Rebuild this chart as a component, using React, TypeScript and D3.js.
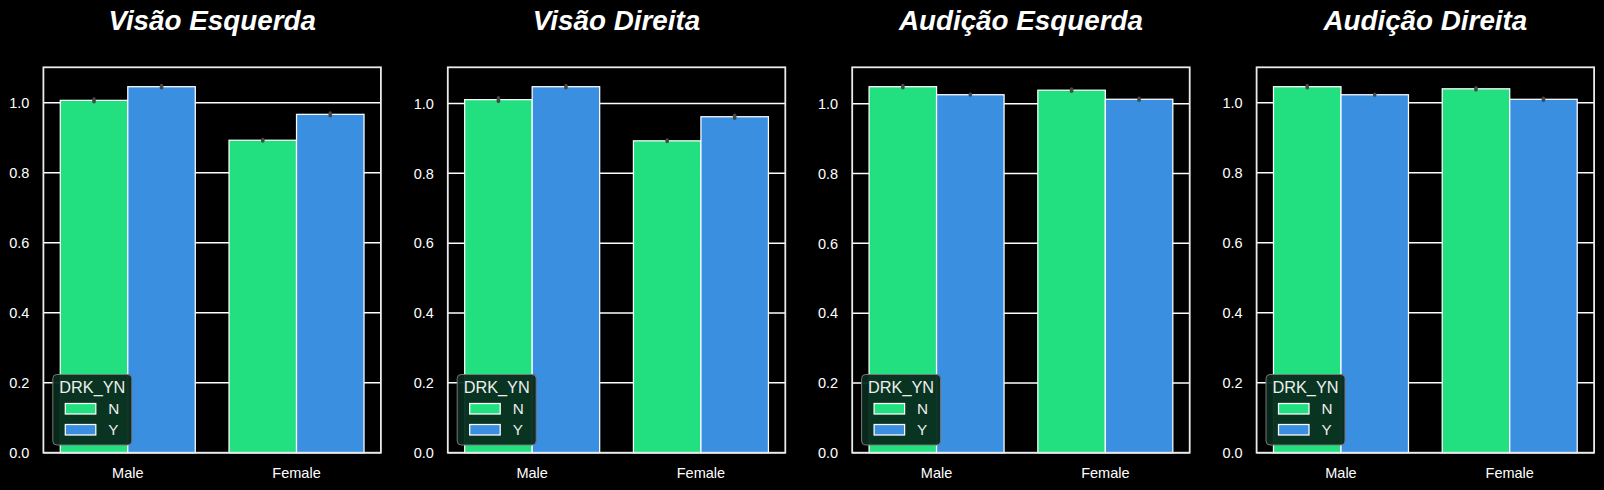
import * as d3 from 'd3';

const categories = ['Male', 'Female'];
const hues = ['N', 'Y'];
const titles = ['Visão Esquerda', 'Visão Direita', 'Audição Esquerda', 'Audição Direita'];

// mean values per panel, [Male, Female]
const sightLeftN = [1.007, 0.893];
const sightLeftY = [1.046, 0.967];
const sightRightN = [1.011, 0.893];
const sightRightY = [1.048, 0.962];
const hearLeftN = [1.049, 1.039];
const hearLeftY = [1.026, 1.013];
const hearRightN = [1.046, 1.040];
const hearRightY = [1.023, 1.010];

// half-width of the confidence intervals
const sightLeftErrN = [0.004, 0.002];
const sightLeftErrY = [0.003, 0.004];
const sightRightErrN = [0.005, 0.002];
const sightRightErrY = [0.003, 0.004];
const hearLeftErrN = [0.003, 0.003];
const hearLeftErrY = [0.001, 0.003];
const hearRightErrN = [0.003, 0.003];
const hearRightErrY = [0.001, 0.003];

const panels = [
  { values: [sightLeftN, sightLeftY], errs: [sightLeftErrN, sightLeftErrY] },
  { values: [sightRightN, sightRightY], errs: [sightRightErrN, sightRightErrY] },
  { values: [hearLeftN, hearLeftY], errs: [hearLeftErrN, hearLeftErrY] },
  { values: [hearRightN, hearRightY], errs: [hearRightErrN, hearRightErrY] },
];

const colors = ['#22e07f', '#3b8fe1'];
const font = '"Liberation Sans", Arial, sans-serif';

const W = 1604;
const H = 490;
const axLeft0 = 43.4;
const axStep = 404.4;
const axW = 337.5;
const axTop = 67.3;
const axBottom = 452.7;

function Panel({ idx }: { idx: number }) {
  const p = panels[idx];
  const left = axLeft0 + idx * axStep;
  const right = left + axW;

  let top = 0;
  p.values.forEach((vals, h) => vals.forEach((v, i) => { top = Math.max(top, v + p.errs[h][i]); }));

  const y = d3.scaleLinear().domain([0, top * 1.05]).range([axBottom, axTop]);
  const x = d3.scaleLinear().domain([-0.5, categories.length - 0.5]).range([left, right]);
  const barW = 0.8 / hues.length;
  const ticks = d3.range(0, 1.01, 0.2);

  return (
    <g>
      <text x={(left + right) / 2} y={30} textAnchor="middle" fill="#fff"
        fontFamily={font} fontSize={27.8} fontWeight="bold" fontStyle="italic">
        {titles[idx]}
      </text>
      {ticks.map(t => (
        <g key={t}>
          <line x1={left} x2={right} y1={y(t)} y2={y(t)} stroke="#fff" strokeWidth={1.5} />
          <text x={left - 14} y={y(t)} dy="0.36em" textAnchor="end" fill="#fff"
            fontFamily={font} fontSize={14.5}>{d3.format('.1f')(t)}</text>
        </g>
      ))}
      {categories.map((c, i) => (
        <text key={c} x={x(i)} y={478} textAnchor="middle" fill="#fff"
          fontFamily={font} fontSize={14.5}>{c}</text>
      ))}
      {p.values.map((vals, h) => vals.map((v, i) => {
        const x0 = x(i - 0.4 + h * barW);
        return (
          <rect key={`${h}-${i}`} x={x0} y={y(v)} width={x(i - 0.4 + (h + 1) * barW) - x0}
            height={axBottom - y(v)} fill={colors[h]} stroke="#fff" strokeWidth={1.25} />
        );
      }))}
      {p.values.map((vals, h) => vals.map((v, i) => {
        const cx = x(i - 0.4 + (h + 0.5) * barW);
        const e = p.errs[h][i];
        return (
          <line key={`e${h}-${i}`} x1={cx} x2={cx} y1={y(v - e)} y2={y(v + e)}
            stroke="#474747" strokeWidth={3.6} strokeLinecap="round" />
        );
      }))}
      <rect x={left} y={axTop} width={axW} height={axBottom - axTop}
        fill="none" stroke="#eaeaea" strokeWidth={1.8} />
      <g transform={`translate(${left + 9.4},${axBottom - 7.7 - 70.5})`}>
        <rect x={0} y={0} width={79} height={70.5} rx={4} fill="#072a1c" fillOpacity={0.95}
          stroke="#777" strokeWidth={1} />
        <text x={39.5} y={18.5} textAnchor="middle" fill="#eee" fontFamily={font} fontSize={16.3}>DRK_YN</text>
        {hues.map((hname, h) => (
          <g key={hname} transform={`translate(0,${29 + h * 21})`}>
            <rect x={12.5} y={0} width={30.5} height={10.5} fill={colors[h]} stroke="#fff" strokeWidth={1.25} />
            <text x={55.5} y={10.8} fill="#eee" fontFamily={font} fontSize={15.3}>{hname}</text>
          </g>
        ))}
      </g>
    </g>
  );
}

export default function App() {
  return (
    <svg width={W} height={H} style={{ position: 'absolute', left: 0, top: 0, background: '#000' }}>
      <rect width={W} height={H} fill="#000" />
      {panels.map((_, i) => <Panel key={i} idx={i} />)}
    </svg>
  );
}
